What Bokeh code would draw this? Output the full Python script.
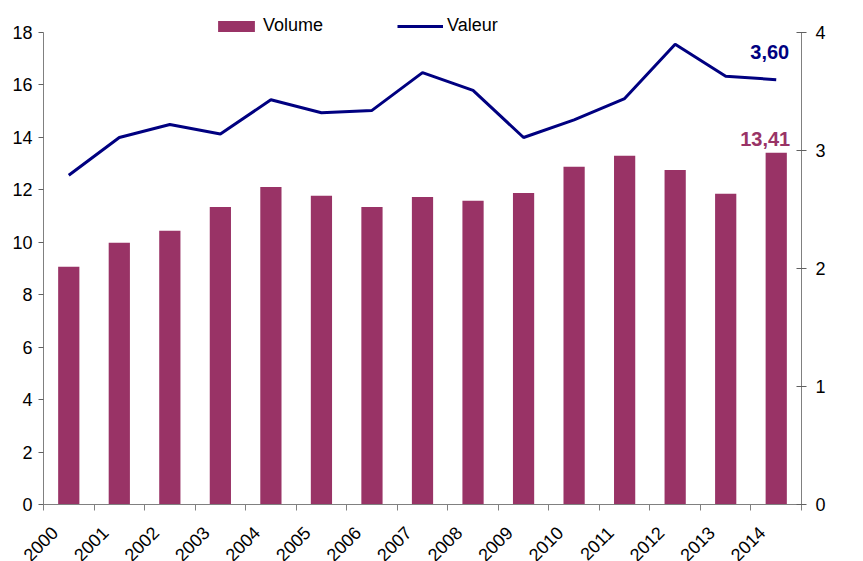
import math
from bokeh.plotting import figure
from bokeh.models import Range1d, LinearAxis, FixedTicker, Legend, LegendItem
from bokeh.core.properties import value
from bokeh.embed import file_html
from bokeh.resources import INLINE

# ---- data ----
years = ["2000", "2001", "2002", "2003", "2004", "2005", "2006", "2007",
         "2008", "2009", "2010", "2011", "2012", "2013", "2014"]
volume = [9.07, 9.98, 10.44, 11.35, 12.11, 11.77, 11.35, 11.73,
          11.58, 11.88, 12.88, 13.30, 12.76, 11.85, 13.41]
valeur = [2.79, 3.11, 3.22, 3.14, 3.43, 3.32, 3.34, 3.66,
          3.51, 3.11, 3.26, 3.44, 3.90, 3.63, 3.60]
left_ticks = [0, 2, 4, 6, 8, 10, 12, 14, 16, 18]
right_ticks = [0, 1, 2, 3, 4]
series_names = ["Volume", "Valeur"]

BAR = "#993366"
LINE = "#000080"
AXIS = "#808080"
FONT = "Liberation Sans"

# ---- layout (canvas pixels) ----
W, H = 860, 561
PL, PR = 43, 801      # plot area left / right (canvas x)
PT, PB = 32, 504      # plot area top / bottom (canvas y)
LABEL_SHIFT = 0.28    # rotated year labels end just left of the bar centre

idx = list(range(len(years)))
x0, x1 = -0.5, len(years) - 0.5
xs = (x1 - x0) / (PR - PL)
yl0, yl1 = left_ticks[0], left_ticks[-1]
yls = (yl1 - yl0) / (PB - PT)
yr0, yr1 = right_ticks[0], right_ticks[-1]
yrs = (yr1 - yr0) / (PB - PT)

p = figure(width=W, height=H, output_backend="svg", toolbar_location=None,
           x_range=Range1d(x0 - PL * xs, x1 + (W - PR) * xs),
           y_range=Range1d(yl0 - (H - PB) * yls, yl1 + PT * yls),
           min_border=0, min_border_left=0, min_border_right=0,
           min_border_top=0, min_border_bottom=0)
p.extra_y_ranges = {"val": Range1d(yr0 - (H - PB) * yrs, yr1 + PT * yrs)}
p.outline_line_color = None
p.xgrid.visible = False
p.ygrid.visible = False
p.background_fill_color = "white"
p.border_fill_color = "white"

bars = p.vbar(x=idx, top=volume, width=0.42, fill_color=BAR, line_color=None)
line = p.line(x=idx, y=valeur, line_color=LINE, line_width=3, y_range_name="val")

def fmt(v):
    return f"{v:.2f}".replace(".", ",")

p.text(x=[idx[-1]], y=[valeur[-1]], text=[fmt(valeur[-1])], y_range_name="val",
       text_align="right", text_baseline="alphabetic", x_offset=13, y_offset=-28,
       text_font=value(FONT), text_font_style="bold", text_font_size="20px",
       text_color=LINE)
p.text(x=[idx[-1]], y=[volume[-1]], text=[fmt(volume[-1])],
       text_align="right", text_baseline="alphabetic", x_offset=14, y_offset=-14,
       text_font=value(FONT), text_font_style="bold", text_font_size="20px",
       text_color=BAR)

# x axis
label_pos = [i - LABEL_SHIFT for i in idx]
xa = p.xaxis[0]
xa.fixed_location = yl0
xa.bounds = (x0, x1)
xa.ticker = FixedTicker(ticks=label_pos,
                        minor_ticks=[i - 0.5 for i in range(len(years) + 1)])
xa.major_label_overrides = {t: y for t, y in zip(label_pos, years)}
xa.major_tick_in = 0
xa.major_tick_out = 0
xa.minor_tick_in = 0
xa.minor_tick_out = 6
xa.minor_tick_line_color = AXIS
xa.axis_line_color = AXIS
xa.major_label_orientation = math.pi / 4
xa.major_label_text_font = FONT
xa.major_label_text_font_size = "18px"
xa.major_label_text_color = "black"
xa.major_label_standoff = 19

# left axis
ya = p.yaxis[0]
ya.fixed_location = x0
ya.bounds = (yl0, yl1)
ya.ticker = FixedTicker(ticks=left_ticks)
ya.major_tick_in = 0
ya.major_tick_out = 5
ya.minor_tick_out = 0
ya.minor_tick_in = 0
ya.axis_line_color = AXIS
ya.major_tick_line_color = "#606060"
ya.major_label_text_font = FONT
ya.major_label_text_font_size = "18px"
ya.major_label_text_color = "black"
ya.major_label_standoff = 6

# right axis
ra = LinearAxis(y_range_name="val", ticker=FixedTicker(ticks=right_ticks))
ra.fixed_location = x1
ra.bounds = (yr0, yr1)
ra.major_tick_in = 5
ra.major_tick_out = 5
ra.minor_tick_in = 0
ra.minor_tick_out = 0
ra.axis_line_color = AXIS
ra.major_tick_line_color = "#606060"
ra.major_label_text_font = FONT
ra.major_label_text_font_size = "18px"
ra.major_label_text_color = "black"
ra.major_label_standoff = 9
p.add_layout(ra, "right")

legend = Legend(items=[LegendItem(label=series_names[0], renderers=[bars]),
                       LegendItem(label=series_names[1], renderers=[line])],
                orientation="horizontal", location=(211, H - 38),
                glyph_width=46, glyph_height=14, label_standoff=4, spacing=74,
                padding=2, margin=0, border_line_alpha=0, background_fill_alpha=0,
                label_text_font=FONT, label_text_font_size="18px",
                label_text_color="black")
p.add_layout(legend, "center")

open("out.html", "w").write(file_html(p, INLINE))
